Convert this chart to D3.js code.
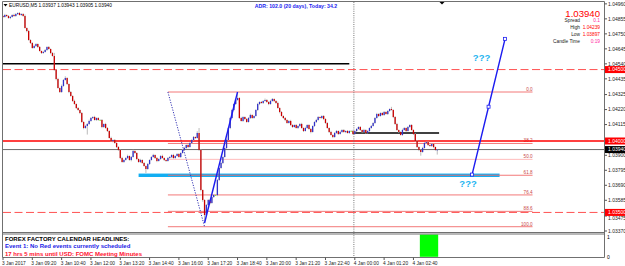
<!DOCTYPE html>
<html>
<head>
<meta charset="utf-8">
<script src="https://cdn.jsdelivr.net/npm/d3@7"></script>
<style>
  body { margin: 0; background: #fff; }
  svg { display: block; font-family: "Liberation Sans", Arial, sans-serif; }
</style>
</head>
<body>
<svg id="chart" width="625" height="266"></svg>
<script>
// ---- data ----
const symbol = "EURUSD,M5";
const firstOpen = 1.04875;

// M5 closes, 16 bars per row (one time label apart)
const closes = [
  1.04868, 1.04882, 1.04875, 1.04861, 1.04868, 1.04882, 1.04875, 1.04889, 1.04896, 1.04882, 1.04889, 1.04875, 1.04791, 1.04770, 1.04707, 1.04686,
  1.04651, 1.04665, 1.04679, 1.04658, 1.04630, 1.04616, 1.04623, 1.04637, 1.04658, 1.04644, 1.04616, 1.04595, 1.04497, 1.04434, 1.04371, 1.04343,
  1.04385, 1.04427, 1.04441, 1.04399, 1.04343, 1.04315, 1.04280, 1.04259, 1.04231, 1.04217, 1.04196, 1.04133, 1.04091, 1.04105, 1.04119, 1.04140,
  1.04161, 1.04168, 1.04147, 1.04161, 1.04147, 1.04147, 1.04098, 1.04119, 1.04091, 1.04070, 1.04021, 1.04000, 1.04007, 1.03986, 1.03958, 1.03937,
  1.03881, 1.03853, 1.03867, 1.03881, 1.03895, 1.03867, 1.03888, 1.03930, 1.03916, 1.03874, 1.03853, 1.03867, 1.03846, 1.03825, 1.03804, 1.03839,
  1.03867, 1.03888, 1.03902, 1.03881, 1.03860, 1.03874, 1.03895, 1.03881, 1.03867, 1.03860, 1.03881, 1.03888, 1.03902, 1.03881, 1.03895, 1.03909,
  1.03888, 1.03916, 1.03937, 1.03951, 1.03972, 1.03958, 1.03986, 1.04007, 1.04028, 1.04021, 1.04056, 1.03937, 1.03657, 1.03587, 1.03482, 1.03552,
  1.03587, 1.03566, 1.03608, 1.03622, 1.03622, 1.03727, 1.03811, 1.03846, 1.03888, 1.03951, 1.04007, 1.04091, 1.04161, 1.04217, 1.04259, 1.04287,
  1.04301, 1.04161, 1.04140, 1.04168, 1.04154, 1.04133, 1.04161, 1.04182, 1.04161, 1.04175, 1.04217, 1.04259, 1.04273, 1.04266, 1.04280, 1.04287,
  1.04273, 1.04259, 1.04280, 1.04294, 1.04280, 1.04266, 1.04231, 1.04203, 1.04175, 1.04161, 1.04147, 1.04126, 1.04140, 1.04112, 1.04098, 1.04112,
  1.04091, 1.04105, 1.04119, 1.04091, 1.04070, 1.04091, 1.04112, 1.04084, 1.04063, 1.04105, 1.04133, 1.04147, 1.04168, 1.04161, 1.04175, 1.04154,
  1.04126, 1.04091, 1.04063, 1.04042, 1.04028, 1.04056, 1.04070, 1.04049, 1.04063, 1.04077, 1.04063, 1.04070, 1.04056, 1.04070, 1.04070, 1.04049,
  1.04070, 1.04084, 1.04098, 1.04077, 1.04063, 1.04077, 1.04056, 1.04070, 1.04091, 1.04105, 1.04126, 1.04161, 1.04189, 1.04175, 1.04196, 1.04182,
  1.04203, 1.04189, 1.04210, 1.04224, 1.04217, 1.04168, 1.04119, 1.04077, 1.04063, 1.04042, 1.04077, 1.04091, 1.04070, 1.04098, 1.04112, 1.04077,
  1.04049, 1.04000, 1.03958, 1.03937, 1.03923, 1.03951, 1.03986, 1.03993, 1.03972, 1.03965, 1.03979, 1.03958, 1.03937, 1.03940
];

// wick lengths above / below the body, in points (0.00001)
const wickUp = [
  5, 8, 4, 6, 7, 5, 9, 6, 4, 7, 5, 6, 10, 4, 8, 5,
  6, 9, 5, 4, 7, 3, 8, 6, 5, 7, 4, 6, 22, 5, 8, 4,
  10, 6, 12, 5, 4, 7, 5, 9, 4, 6, 3, 7, 5, 8, 6, 9,
  7, 5, 8, 4, 6, 5, 7, 4, 8, 6, 5, 9, 4, 7, 5, 6,
  4, 8, 6, 5, 9, 4, 7, 10, 5, 6, 4, 8, 5, 6, 4, 7,
  5, 6, 8, 4, 7, 5, 6, 9, 4, 5, 7, 6, 5, 8, 4, 6,
  7, 5, 6, 9, 4, 8, 6, 5, 7, 4, 12, 35, 6, 4, 5, 7,
  6, 8, 5, 4, 3, 7, 5, 9, 6, 4, 8, 5, 6, 7, 4, 5,
  42, 6, 8, 5, 4, 7, 6, 9, 5, 4, 6, 8, 5, 7, 4, 10,
  6, 5, 8, 7, 4, 6, 9, 5, 6, 4, 7, 5, 6, 8, 5, 4,
  7, 5, 6, 8, 4, 9, 5, 6, 7, 4, 5, 8, 6, 4, 5, 7,
  5, 6, 4, 8, 5, 7, 6, 4, 9, 5, 6, 4, 7, 5, 6, 8,
  4, 6, 5, 7, 4, 8, 5, 6, 4, 7, 5, 6, 8, 5, 4, 6,
  7, 5, 6, 4, 15, 5, 6, 8, 4, 5, 9, 6, 4, 7, 5, 6,
  5, 6, 7, 4, 5, 8, 6, 4, 7, 5, 6, 4, 3, 3
];
const wickDown = [
  6, 4, 7, 5, 8, 4, 6, 5, 7, 4, 6, 5, 4, 9, 5, 7,
  5, 4, 6, 8, 4, 7, 5, 4, 6, 5, 8, 4, 6, 9, 5, 7,
  6, 5, 4, 7, 8, 5, 6, 4, 7, 5, 8, 6, 9, 5, 60, 6,
  5, 7, 4, 6, 5, 4, 8, 6, 5, 7, 4, 6, 9, 5, 7, 6,
  8, 5, 6, 4, 7, 5, 9, 4, 6, 8, 5, 7, 6, 4, 28, 5,
  6, 4, 5, 7, 8, 4, 6, 5, 7, 6, 4, 5, 8, 6, 5, 4,
  5, 7, 4, 6, 5, 8, 4, 6, 5, 7, 4, 6, 9, 12, 56, 8,
  7, 9, 5, 6, 4, 8, 6, 5, 7, 4, 6, 5, 8, 4, 5, 6,
  5, 7, 4, 6, 8, 5, 4, 7, 6, 5, 4, 6, 8, 5, 7, 4,
  6, 8, 5, 4, 7, 6, 5, 9, 4, 6, 8, 5, 4, 7, 6, 5,
  4, 6, 8, 5, 7, 4, 6, 5, 9, 4, 6, 7, 5, 4, 6, 8,
  6, 5, 7, 4, 8, 5, 6, 7, 4, 6, 5, 8, 4, 6, 5, 7,
  5, 7, 4, 6, 8, 5, 7, 4, 6, 5, 4, 6, 5, 7, 4, 6,
  6, 4, 7, 5, 4, 8, 6, 5, 7, 4, 6, 5, 8, 4, 6, 5,
  7, 5, 6, 8, 26, 5, 4, 6, 7, 5, 6, 8, 5, 32
];

const timeLabels = ["3 Jan 2017", "3 Jan 09:20", "3 Jan 10:40", "3 Jan 12:00", "3 Jan 13:20",
  "3 Jan 14:40", "3 Jan 16:00", "3 Jan 17:20", "3 Jan 18:40", "3 Jan 20:00", "3 Jan 21:20",
  "3 Jan 22:40", "4 Jan 00:00", "4 Jan 01:20", "4 Jan 02:40"];
const barsPerLabel = 16;
const dayStartBar = 192;

const priceTicks = [1.04960, 1.04855, 1.04750, 1.04645, 1.04540, 1.04435, 1.04325, 1.04220,
  1.04115, 1.03900, 1.03795, 1.03690, 1.03585, 1.03475, 1.03370];

const bid = 1.03940;
const redLevel = 1.04000;
const dashedLevels = [1.04500, 1.03500];
const blackLevels = [
  { price: 1.04540, from: 0, to: 189 },
  { price: 1.04056, from: 191, to: 238 }
];
const zone = { from: 74, to: 271, low: 1.03748, high: 1.03772 };

const fibLevels = [0, 38.2, 50, 61.8, 76.4, 88.6, 100];
const fib = { from: 90, to: 289, high: 1.04343, low: 1.03400, lowBar: 110 };
const swing = [{ bar: 110, price: 1.03426 }, { bar: 128, price: 1.04343 }];
const projection = [
  { bar: 256, price: 1.03765 },
  { bar: 265, price: 1.04240 },
  { bar: 274, price: 1.04715 }
];
const signalBars = [228, 229, 230, 231, 232, 233, 234, 235, 236, 237];

const adrText = "ADR: 102.0 (20 days), Today: 34.2";
const info = { spread: "0.1", high: 1.04239, low: 1.03897, candleTime: "0:19" };
const headlines = [
  "FOREX FACTORY CALENDAR  HEADLINES:",
  "Event 1: No Red events currently scheduled",
  "17 hrs 5 mins until USD: FOMC Meeting Minutes"
];

// ---- scales ----
const x = d3.scaleLinear().domain([0, 328]).range([3, 604]);
const y = d3.scaleLinear().domain([1.0337, 1.0496]).range([231, 3.86]);
const yInd = d3.scaleLinear().domain([0, 1]).range([256.8, 234.5]);
const fmt = d3.format(".5f");
const barW = x(1) - x(0);

const bars = closes.map((c, i) => {
  const o = i ? closes[i - 1] : firstOpen;
  return {
    i, o, c,
    h: Math.max(o, c) + wickUp[i] / 1e5,
    l: Math.min(o, c) - wickDown[i] / 1e5
  };
});

const svg = d3.select("#chart");

svg.append("clipPath").attr("id", "main")
  .append("rect").attr("x", 3).attr("y", 2).attr("width", 601).attr("height", 230);

const plot = svg.append("g").attr("clip-path", "url(#main)");

// day separator
svg.append("line")
  .attr("x1", x(dayStartBar - 0.5)).attr("x2", x(dayStartBar - 0.5))
  .attr("y1", 2).attr("y2", 257.5)
  .attr("stroke", "#777").attr("stroke-dasharray", "1,1.2");

// support zone
plot.append("rect")
  .attr("x", x(zone.from)).attr("width", x(zone.to) - x(zone.from))
  .attr("y", y(zone.high)).attr("height", y(zone.low) - y(zone.high))
  .attr("fill", "#12aef2");

// fibonacci
const fibPrice = (lv) => fib.high + (fib.low - fib.high) * lv / 100;
plot.selectAll(".fib")
  .data(fibLevels)
  .join("line")
  .attr("x1", x(fib.from)).attr("x2", x(fib.to))
  .attr("y1", (d) => y(fibPrice(d))).attr("y2", (d) => y(fibPrice(d)))
  .attr("stroke", (d) => (d === 50 ? "#ffb3b3" : "#f26a6a"))
  .attr("stroke-width", 0.9);
plot.selectAll(".fibLabel")
  .data(fibLevels)
  .join("text")
  .attr("x", x(fib.to)).attr("y", (d) => y(fibPrice(d)) - 1)
  .attr("text-anchor", "end")
  .attr("font-size", 4.6)
  .attr("fill", "#c84848")
  .text((d) => d.toFixed(1));
plot.append("line")
  .attr("x1", x(fib.from)).attr("y1", y(fib.high))
  .attr("x2", x(fib.lowBar)).attr("y2", y(fib.low))
  .attr("stroke", "#3434b4").attr("stroke-dasharray", "1.2,1.4");

// horizontal levels
plot.selectAll(".dash")
  .data(dashedLevels)
  .join("line")
  .attr("x1", 3).attr("x2", 604)
  .attr("y1", (d) => y(d)).attr("y2", (d) => y(d))
  .attr("stroke", "#ff5252").attr("stroke-dasharray", "8,3.5");
plot.append("line")
  .attr("x1", 3).attr("x2", 604)
  .attr("y1", y(redLevel)).attr("y2", y(redLevel))
  .attr("stroke", "#ff0000").attr("stroke-width", 1.4);
plot.append("line")
  .attr("x1", 3).attr("x2", 604)
  .attr("y1", y(bid)).attr("y2", y(bid))
  .attr("stroke", "#6a6a6a");
plot.selectAll(".black")
  .data(blackLevels)
  .join("line")
  .attr("x1", (d) => x(d.from)).attr("x2", (d) => x(d.to))
  .attr("y1", (d) => y(d.price)).attr("y2", (d) => y(d.price))
  .attr("stroke", "#000").attr("stroke-width", 1.5);

// candles
const candle = plot.append("g").selectAll("g").data(bars).join("g");
candle.append("line")
  .attr("x1", (d) => x(d.i)).attr("x2", (d) => x(d.i))
  .attr("y1", (d) => y(d.h)).attr("y2", (d) => y(d.l))
  .attr("stroke", "#a9a9a9").attr("stroke-width", 0.8);
candle.append("rect")
  .attr("x", (d) => x(d.i) - 0.65).attr("width", 1.3)
  .attr("y", (d) => y(Math.max(d.o, d.c)))
  .attr("height", (d) => Math.max(0.8, Math.abs(y(d.o) - y(d.c))))
  .attr("fill", (d) => (d.c > d.o ? "#3232c8" : d.c < d.o ? "#c80000" : "#7cfc00"));

// swing line and projection
const line = d3.line().x((d) => x(d.bar)).y((d) => y(d.price));
plot.append("path").attr("d", line(swing))
  .attr("fill", "none").attr("stroke", "#1c1cf0").attr("stroke-width", 1.4);
plot.append("path").attr("d", line(projection))
  .attr("fill", "none").attr("stroke", "#1c1cf0").attr("stroke-width", 1.4);
plot.selectAll(".pt")
  .data(projection)
  .join("rect")
  .attr("x", (d) => x(d.bar) - 1.5).attr("y", (d) => y(d.price) - 1.5)
  .attr("width", 3).attr("height", 3)
  .attr("fill", "#fff").attr("stroke", "#1c1cf0").attr("stroke-width", 0.8);
plot.append("text")
  .attr("x", x(projection[0].bar) - 4).attr("y", y(projection[0].price) + 12)
  .attr("text-anchor", "middle").attr("font-size", 9.5).attr("font-weight", "bold")
  .attr("fill", "#1eb4f0").text("???");
plot.append("text")
  .attr("x", x(projection[1].bar) - 7).attr("y", y(projection[2].price) + 22)
  .attr("text-anchor", "middle").attr("font-size", 9.5).attr("font-weight", "bold")
  .attr("fill", "#1eb4f0").text("???");

// indicator histogram (one solid block over the signal bars)
svg.append("rect")
  .attr("x", x(d3.min(signalBars)) - barW / 2)
  .attr("width", x(d3.max(signalBars)) - x(d3.min(signalBars)) + barW)
  .attr("y", yInd(1)).attr("height", yInd(0) - yInd(1))
  .attr("fill", "#00ff00");

// frame
const frame = [
  [2.5, 1.5, 604.5, 1.5], [2.5, 1.5, 2.5, 257.5], [604.5, 1.5, 604.5, 257.5],
  [2.5, 232.5, 604.5, 232.5], [2.5, 234, 604.5, 234], [2.5, 257.5, 604.5, 257.5]
];
svg.selectAll(".frame")
  .data(frame)
  .join("line")
  .attr("x1", (d) => d[0]).attr("y1", (d) => d[1])
  .attr("x2", (d) => d[2]).attr("y2", (d) => d[3])
  .attr("stroke", "#707070");

// right price axis
const axisG = svg.append("g");
axisG.selectAll("line")
  .data(priceTicks)
  .join("line")
  .attr("x1", 604.5).attr("x2", 607)
  .attr("y1", (d) => y(d)).attr("y2", (d) => y(d))
  .attr("stroke", "#555");
axisG.selectAll("text")
  .data(priceTicks)
  .join("text")
  .attr("x", 608)
  // a label that would sit under a level box is nudged just below it
  .attr("y", (d) => y(d) + (Math.abs(d - dashedLevels[1]) < 0.0004 ? 3.6 : 1.8))
  .attr("font-size", 5).attr("fill", "#222")
  .text((d) => fmt(d));

const boxes = [...dashedLevels, redLevel].map((p) => ({ p, dark: false }))
  .concat([{ p: bid, dark: true }]);
const box = svg.selectAll(".box").data(boxes).join("g");
box.append("rect")
  .attr("x", 605).attr("width", 20)
  .attr("y", (d) => y(d.p) - 3.5).attr("height", 7)
  .attr("fill", (d) => (d.dark ? "#000" : "#ff0000"));
box.append("text")
  .attr("x", 608).attr("y", (d) => y(d.p) + 1.8)
  .attr("font-size", 5).attr("fill", "#fff")
  .text((d) => fmt(d.p));

svg.append("text").attr("x", 607).attr("y", 239).attr("font-size", 5).text("1");
svg.append("text").attr("x", 607).attr("y", 258.5).attr("font-size", 5).text("0");

// time axis
const timeG = svg.append("g").selectAll("g")
  .data(timeLabels)
  .join("g")
  .attr("transform", (d, i) => `translate(${x(i * barsPerLabel)},0)`);
timeG.append("line").attr("y1", 257.5).attr("y2", 260).attr("stroke", "#555");
timeG.append("text").attr("x", -1).attr("y", 264.5)
  .attr("font-size", 4.8).attr("fill", "#222").text((d) => d);

// header texts
const last = bars[bars.length - 1];
svg.append("text").attr("x", 9).attr("y", 7).attr("font-size", 4.8)
  .text(`${symbol}  ${fmt(last.o)} ${fmt(last.h)} ${fmt(last.l)} ${fmt(last.c)}`);
svg.append("path").attr("d", "M3.5,4 L7.5,4 L5.5,6.5 Z").attr("fill", "#000");
svg.append("path").attr("d", "M439.5,2 L444.5,2 L442,4.5 Z").attr("fill", "#000");

svg.append("text").attr("x", 296).attr("y", 8).attr("text-anchor", "middle")
  .attr("font-size", 5.2).attr("font-weight", "bold").attr("fill", "#2323f0")
  .text(adrText);

svg.append("text").attr("x", 600).attr("y", 16.5).attr("text-anchor", "end")
  .attr("font-size", 9.6).attr("fill", "#ff0000").text(fmt(last.c));

const rows = [
  ["Spread", info.spread, "#ff2aa0"],
  ["High", fmt(info.high), "#ff0000"],
  ["Low", fmt(info.low), "#ff0000"],
  ["Candle Time", info.candleTime, "#ff2aa0"]
];
const row = svg.selectAll(".row").data(rows).join("g")
  .attr("transform", (d, i) => `translate(0,${22.3 + i * 7})`);
row.append("text").attr("x", 580).attr("text-anchor", "end")
  .attr("font-size", 4.8).attr("fill", "#222").text((d) => d[0]);
row.append("text").attr("x", 600).attr("text-anchor", "end")
  .attr("font-size", 4.8).attr("fill", (d) => d[2]).text((d) => d[1]);

// calendar headlines in the indicator window
svg.selectAll(".news")
  .data(headlines)
  .join("text")
  .attr("x", 5).attr("y", (d, i) => 240.5 + i * 7.7)
  .attr("font-size", 6).attr("font-weight", "bold")
  .attr("fill", (d, i) => ["#000", "#2323e6", "#ff1030"][i])
  .text((d) => d);
</script>
</body>
</html>
